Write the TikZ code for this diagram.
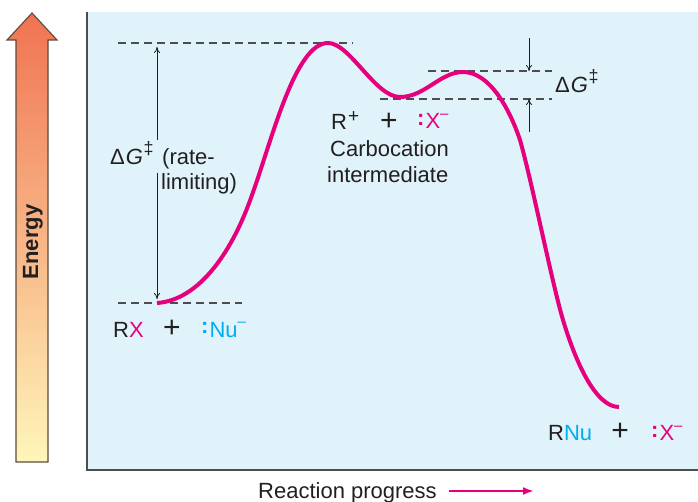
\documentclass[tikz,border=0pt]{standalone}
\usepackage{fontspec}
\setmainfont{Liberation Sans}
\usetikzlibrary{arrows.meta}
\definecolor{pinkc}{HTML}{E6007E}
\definecolor{cyanc}{HTML}{00AEEF}
\definecolor{panel}{HTML}{E0F2FA}
\definecolor{txt}{HTML}{231F20}
\definecolor{dashc}{HTML}{4D4D4D}
\definecolor{etop}{HTML}{F07352}
\definecolor{emid}{HTML}{F9B07F}
\definecolor{ebot}{HTML}{FFF6BA}
\definecolor{eedge}{HTML}{5A4B3E}
\newcommand{\dG}{Δ\kern1pt\textit{G}\kern0.5pt\raisebox{10pt}{\fontsize{18}{19}\selectfont ‡}}
\newcommand{\mnsup}{\raisebox{10pt}{\fontsize{15}{16}\selectfont –}}
\newcommand{\plsup}{\kern1pt\raisebox{7pt}{\fontsize{19}{20}\selectfont +}}
\newcommand{\lone}{\raisebox{3pt}{\textbf{:}}\kern1pt}
\begin{document}
\begin{tikzpicture}[x=1pt,y=-1pt,
  lbl/.style={anchor=base west, inner sep=0pt, text=txt, font=\fontsize{22}{26}\selectfont},
  bigplus/.style={anchor=center, inner sep=0pt, text=txt, font=\fontsize{30}{32}\selectfont},
  guide/.style={draw=dashc, line width=1.1pt, dash pattern=on 8pt off 5pt},
  dimarrow/.style={draw=txt, line width=0.8pt, -{To[length=6pt,width=6pt]}},
  curve/.style={draw=pinkc, line width=4pt},
  ]
\useasboundingbox (0,0) rectangle (698,502);
% panel
\fill[panel] (87,12) rectangle (698,470);
\draw[line width=1.4pt, draw=dashc] (87,12) -- (87,470) -- (698,470);
% energy arrow
\shadedraw[top color=etop, middle color=emid, bottom color=ebot, draw=eedge, line width=1.1pt]
  (16,462) -- (16,40) -- (7,40) -- (32,13) -- (57,40) -- (48,40) -- (48,462) -- cycle;
\node[rotate=90, inner sep=0pt, text=txt, font=\bfseries\fontsize{22}{26}\selectfont] (energy) at (33,242) {Energy};
% guide lines
\coordinate (g1a) at (118,43);  \coordinate (g1b) at (353,43);
\coordinate (g2a) at (118,303); \coordinate (g2b) at (242,303);
\coordinate (g3a) at (428,71);  \coordinate (g3b) at (552,71);
\coordinate (g4a) at (380,99);  \coordinate (g4b) at (552,99);
\draw[guide] (g1a) -- (g1b);
\draw[guide] (g2a) -- (g2b);
\draw[guide] (g3a) -- (g3b);
\draw[guide] (g4a) -- (g4b);
% energy curve
\draw[curve] (157,303) .. controls (200,300) and (233,250) .. (252,195)
  .. controls (272,140) and (295,43) .. (328,43)
  .. controls (350,43) and (375,97) .. (400,97)
  .. controls (425,97) and (440,72) .. (463,72)
  .. controls (490,72) and (510,110) .. (520,140)
  .. controls (532,182) and (552,283) .. (563,320)
  .. controls (575,360) and (595,407) .. (619,407);
% left dimension arrow
\coordinate (d1t) at (157,47);  \coordinate (d1m1) at (157,140);
\coordinate (d1m2) at (157,173); \coordinate (d1b) at (157,299);
\draw[dimarrow] (d1m1) -- (d1t);
\draw[dimarrow] (d1m2) -- (d1b);
% right dimension arrows
\coordinate (d2a) at (529,38); \coordinate (d2b) at (529,71);
\coordinate (d3a) at (529,132); \coordinate (d3b) at (529,99);
\draw[dimarrow] (d2a) -- (d2b);
\draw[dimarrow] (d3a) -- (d3b);
% labels
\node[lbl] (dgl) at (110,165) {\dG};
\node[lbl] (rate) at (162,165) {(rate-};
\node[lbl] (limit) at (161,190) {limiting)};
\node[lbl] (dgr) at (555,93) {\dG};
\node[lbl] (rplus) at (331,130) {R\plsup};
\node[bigplus] (plus1) at (389,122) {+};
\node[lbl, text=pinkc] (xm1) at (417,129) {\lone X\mnsup};
\node[lbl] (carbo) at (330,157) {Carbocation};
\node[lbl] (inter) at (327,183) {intermediate};
\node[lbl] (rx) at (113,337) {R\textcolor{pinkc}{X}};
\node[bigplus] (plus2) at (172,329) {+};
\node[lbl, text=cyanc] (nu) at (201,337) {\lone Nu\mnsup};
\node[lbl] (rnu) at (548,440) {R\textcolor{cyanc}{Nu}};
\node[bigplus] (plus3) at (620,432) {+};
\node[lbl, text=pinkc] (xm2) at (651,440) {\lone X\mnsup};
\node[lbl] (rp) at (258,498) {Reaction progress};
\coordinate (rp1) at (449,491); \coordinate (rp2) at (534,491);
\draw[pinkc, line width=2.2pt, -{Latex[length=11pt,width=8pt]}] (rp1) -- (rp2);
\end{tikzpicture}
\end{document}
